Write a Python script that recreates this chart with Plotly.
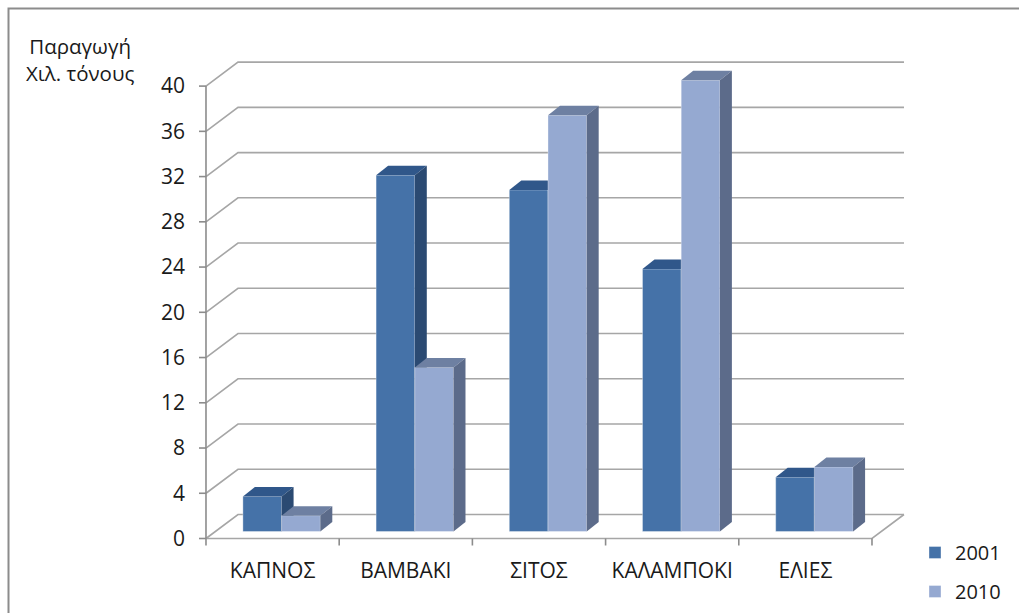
import plotly.graph_objects as go

# ---- data -------------------------------------------------------------
categories = ["ΚΑΠΝΟΣ", "ΒΑΜΒΑΚΙ", "ΣΙΤΟΣ", "ΚΑΛΑΜΠΟΚΙ", "ΕΛΙΕΣ"]
values_2001 = [3.1, 31.5, 30.2, 23.2, 4.8]
values_2010 = [1.4, 14.5, 36.8, 39.9, 5.7]
y_ticks = [0, 4, 8, 12, 16, 20, 24, 28, 32, 36, 40]
series_names = ["2001", "2010"]

# ---- look -------------------------------------------------------------
FONT = "Open Sans"
TEXT = "#1a1a1a"
GRID = "#a6a6a6"
AXIS = "#8c8c8c"
COLORS = {
    "2001": dict(front="#4572a8", top="#30578a", side="#2b4a72"),
    "2010": dict(front="#95a9d1", top="#6e80a2", side="#5c6b8a"),
}

W, H = 1019, 613
ML, MR, MT, MB = 198, 112, 58, 67
PX_X = 133.2        # pixels per category
PX_Y = 11.31        # pixels per value unit
ZERO_PX = 538.5     # screen row of the value 0 on the front plane

plot_w = W - ML - MR
plot_h = H - MT - MB
x_lo = -0.56
x_range = [x_lo, x_lo + plot_w / PX_X]
y_lo = -((H - MB) - ZERO_PX) / PX_Y
y_range = [y_lo, y_lo + plot_h / PX_Y]


def px_x(px):
    """Screen column -> paper fraction (paper spans the plot area)."""
    return (px - ML) / plot_w


def px_y(py):
    """Screen row -> paper fraction."""
    return 1 - (py - MT) / plot_h


# oblique "depth" offsets, expressed in axis units
WALL_DX, WALL_DY = 32 / PX_X, 24 / PX_Y          # front plane -> back wall
FACE_DX, FACE_DY = 9 / PX_X, 7 / PX_Y            # front plane -> bar front face
DEPTH_DX, DEPTH_DY = 12 / PX_X, 9.5 / PX_Y       # bar thickness
BAR_W = 38.7 / PX_X

x_left = -0.5
x_right = len(categories) - 0.5

fig = go.Figure()

# ---- walls, floor and gridlines (drawn underneath the columns) ---------
shapes = []
line_grid = dict(color=GRID, width=1.6)
for v in y_ticks:
    shapes.append(dict(
        type="path", layer="below", xref="x", yref="y", line=line_grid,
        path=f"M{x_left},{v} L{x_left + WALL_DX},{v + WALL_DY} L{x_right + WALL_DX},{v + WALL_DY}",
    ))
# front edge of the floor and its right-hand side
shapes.append(dict(
    type="path", layer="below", xref="x", yref="y", line=line_grid,
    path=f"M{x_left},0 L{x_right},0 L{x_right + WALL_DX},{WALL_DY}",
))
# value axis line
shapes.append(dict(type="line", layer="below", xref="x", yref="y",
                   x0=x_left, x1=x_left, y0=0, y1=max(y_ticks),
                   line=dict(color=AXIS, width=1.6)))
# value axis tick marks
tick_len_x = 7 / PX_X
for v in y_ticks:
    shapes.append(dict(type="line", layer="below", xref="x", yref="y",
                       x0=x_left - tick_len_x, x1=x_left, y0=v, y1=v,
                       line=dict(color=AXIS, width=1.6)))
# category separators on the floor edge
tick_len_y = 7 / PX_Y
for k in range(len(categories) + 1):
    xk = x_left + k
    shapes.append(dict(type="line", layer="below", xref="x", yref="y",
                       x0=xk, x1=xk, y0=0, y1=-tick_len_y,
                       line=dict(color=AXIS, width=1.6)))

# outer chart border
shapes.append(dict(
    type="rect", xref="paper", yref="paper", layer="above",
    x0=px_x(8.5), x1=px_x(W + 10), y0=px_y(H + 10), y1=px_y(8.5),
    line=dict(color="#8c8c8c", width=2),
))


# ---- columns ------------------------------------------------------------
def add_series(name, values, shift, xa, ya):
    col = COLORS[name]
    centers = [i + FACE_DX + shift for i in range(len(values))]
    fig.add_trace(go.Bar(
        x=centers, y=values, base=[FACE_DY] * len(values), width=BAR_W,
        name=name, legendgroup=name, xaxis=xa, yaxis=ya,
        marker=dict(color=col["front"], line=dict(color="rgba(255,255,255,0.35)", width=1)),
        hoverinfo="skip",
    ))
    for c, v in zip(centers, values):
        L, R = c - BAR_W / 2, c + BAR_W / 2
        b, t = FACE_DY, FACE_DY + v
        # top face
        fig.add_trace(go.Scatter(
            x=[L, R, R + DEPTH_DX, L + DEPTH_DX, L],
            y=[t, t, t + DEPTH_DY, t + DEPTH_DY, t],
            mode="lines", fill="toself", fillcolor=col["top"],
            line=dict(width=0, color=col["top"]), showlegend=False,
            hoverinfo="skip", xaxis=xa, yaxis=ya,
        ))
        # side face
        fig.add_trace(go.Scatter(
            x=[R, R, R + DEPTH_DX, R + DEPTH_DX, R],
            y=[b, t, t + DEPTH_DY, b + DEPTH_DY, b],
            mode="lines", fill="toself", fillcolor=col["side"],
            line=dict(width=0, color=col["side"]), showlegend=False,
            hoverinfo="skip", xaxis=xa, yaxis=ya,
        ))


add_series("2001", values_2001, -BAR_W / 2, "x", "y")
add_series("2010", values_2010, BAR_W / 2, "x2", "y2")

# ---- layout -------------------------------------------------------------
fig.update_layout(
    width=W, height=H,
    margin=dict(l=ML, r=MR, t=MT, b=MB, autoexpand=False),
    paper_bgcolor="white", plot_bgcolor="white",
    font=dict(family=FONT, color=TEXT),
    barmode="overlay",
    shapes=shapes,
    xaxis=dict(
        range=x_range, tickmode="array", tickvals=list(range(len(categories))),
        ticktext=categories, ticks="", showgrid=False, zeroline=False,
        showline=False, tickfont=dict(size=21, family=FONT, color=TEXT),
        ticklabelstandoff=10, fixedrange=True,
    ),
    yaxis=dict(
        range=y_range, tickmode="array", tickvals=y_ticks, ticks="",
        showgrid=False, zeroline=False, showline=False,
        tickfont=dict(size=21, family=FONT, color=TEXT),
        ticklabelstandoff=12, fixedrange=True,
    ),
    xaxis2=dict(range=x_range, overlaying="x", visible=False, fixedrange=True),
    yaxis2=dict(range=y_range, overlaying="y", visible=False, fixedrange=True),
    legend=dict(
        x=px_x(915), y=px_y(533), xanchor="left", yanchor="top",
        traceorder="grouped", tracegroupgap=10,
        font=dict(size=20, family=FONT, color=TEXT),
        bgcolor="rgba(0,0,0,0)",
    ),
    annotations=[dict(
        text="Παραγωγή<br>Χιλ. τόνους", xref="paper", yref="paper",
        x=px_x(80), y=px_y(60), xanchor="center", yanchor="middle",
        showarrow=False, align="center",
        font=dict(size=20.5, family=FONT, color=TEXT),
    )],
)

fig.write_html("out.html")
